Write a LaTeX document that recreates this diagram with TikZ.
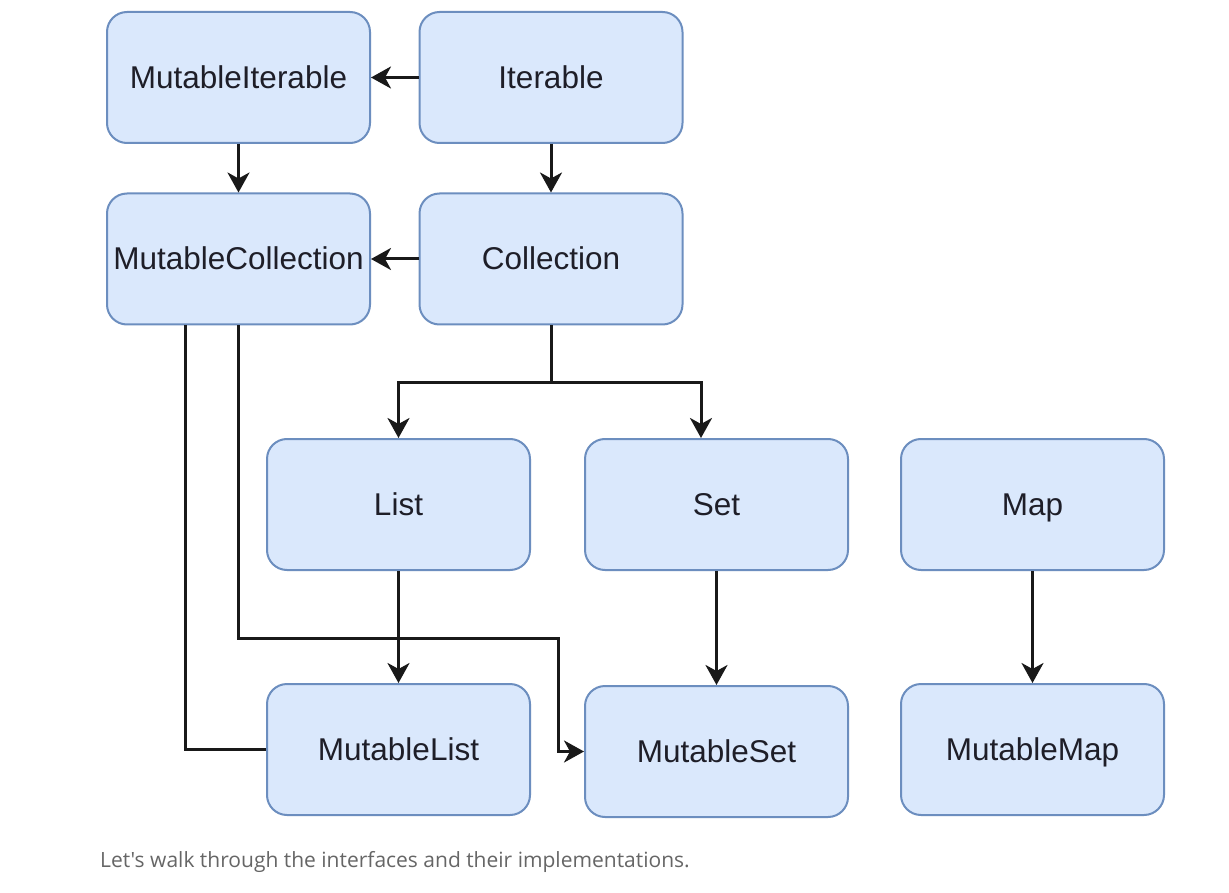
\documentclass[tikz,border=0pt]{standalone}
\usepackage{fontspec}
\setmainfont{Liberation Sans}
\newfontfamily\capfont{Open Sans}
\usetikzlibrary{arrows.meta}
\definecolor{boxfill}{HTML}{DAE8FC}
\definecolor{boxline}{HTML}{6C8EBF}
\definecolor{boxtext}{HTML}{1E1E28}
\definecolor{captext}{HTML}{666666}
\begin{document}
\begin{tikzpicture}[x=1pt,y=-1pt,
  ibox/.style={draw=boxline, line width=2pt, fill=boxfill, rounded corners=20pt,
    minimum width=263pt, minimum height=131pt, inner sep=0pt,
    text height=22pt, text depth=0pt,
    text=boxtext, font=\fontsize{31.5}{36}\selectfont},
  arr/.style={line width=3pt, draw=black!90, -{Stealth[length=20pt,width=22pt,inset=6pt]}},
  ln/.style={line width=3pt, draw=black!90}]
\fill[white] (0,0) rectangle (1229,893);
\useasboundingbox (0,0) rectangle (1229,893);

\node[ibox] (MI)  at (238.5,77.5)  {MutableIterable};
\node[ibox] (It)  at (551,77.5)    {Iterable};
\node[ibox] (MC)  at (238.5,259)   {MutableCollection};
\node[ibox] (Col) at (551,259)     {Collection};
\node[ibox] (List) at (398.5,504.5) {List};
\node[ibox] (Set)  at (716.5,504.5) {Set};
\node[ibox] (Map)  at (1032.5,504.5) {Map};
\node[ibox] (ML)  at (398.5,749.5) {MutableList};
\node[ibox] (MS)  at (716.5,751.5) {MutableSet};
\node[ibox] (MM)  at (1032.5,749.5) {MutableMap};

\node[anchor=west, inner sep=0pt, text=captext, font=\capfont\fontsize{21}{24}\selectfont] (cap) at (100,862) {Let's walk through the interfaces and their implementations.};

\draw[arr] (It.west) -- (MI.east);
\draw[arr] (MI.south) -- (MC.north);
\draw[arr] (It.south) -- (Col.north);
\draw[arr] (Col.west) -- (MC.east);
\coordinate (split) at (551,382);
\draw[arr] (Col.south) -- (split) -| (List.north);
\draw[arr] (split) -| ([xshift=-15.5pt]Set.north);
\draw[arr] (List.south) -- (ML.north);
\draw[arr] (Set.south) -- (MS.north);
\draw[arr] (Map.south) -- (MM.north);
\draw[ln] ([xshift=-53.5pt]MC.south) |- (ML.west);
\coordinate (bend) at (558,638);
\draw[arr] (MC.south) |- (bend) |- (MS.west);
\end{tikzpicture}
\end{document}
